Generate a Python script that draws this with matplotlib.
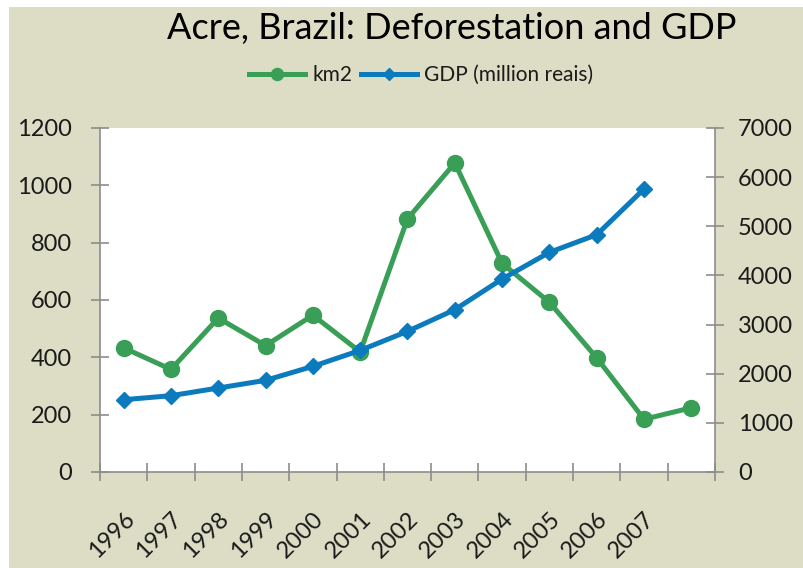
import matplotlib.pyplot as plt
from matplotlib.patches import Rectangle

# data
years = ['1996', '1997', '1998', '1999', '2000', '2001', '2002',
         '2003', '2004', '2005', '2006', '2007', '']
km2 = [433, 358, 537, 441, 547, 419, 883, 1078, 728, 592, 398, 184, 224]
gdp = [1471, 1553, 1709, 1865, 2150, 2475, 2862, 3303, 3927, 4470, 4829, 5759]

green = '#3a9f56'
blue = '#0b7bbd'
beige = '#dcddc4'
grey = '#8c8c8c'
txt = '#1a1a1a'

plt.rcParams['font.family'] = ['Lato', 'DejaVu Sans']

fig = plt.figure(figsize=(8.04, 5.68), dpi=100)
# beige chart area with thin white margin top/left
fig.patches.append(Rectangle((9 / 804, 0), 1, 1 - 7 / 568, transform=fig.transFigure,
                             facecolor=beige, edgecolor='none', zorder=-10))

ax = fig.add_axes([100 / 804, 1 - 472 / 568, 615 / 804, 344 / 568])
ax.set_facecolor('white')
ax2 = ax.twinx()

x1 = list(range(len(km2)))
x2 = list(range(len(gdp)))
l1, = ax.plot(x1, km2, color=green, lw=3.6, marker='o', ms=11.5,
              solid_joinstyle='round', label='km2')
l2, = ax2.plot(x2, gdp, color=blue, lw=3.6, marker='D', ms=8.5,
               solid_joinstyle='round', label='GDP (million reais)')

ax.set_xlim(-0.5, len(years) - 0.5)
ax.set_ylim(0, 1200)
ax2.set_ylim(0, 7000)
ax.set_yticks(range(0, 1201, 200))
ax2.set_yticks(range(0, 7001, 1000))

# category boundaries as major ticks, labels on minor ticks
ax.set_xticks([i - 0.5 for i in range(len(years) + 1)])
ax.set_xticklabels([])
ax.set_xticks(range(len(years)), minor=True)
ax.set_xticklabels(years, minor=True, rotation=45, ha='right',
                   rotation_mode='anchor', fontsize=17, color=txt)
ax.tick_params(axis='x', which='minor', length=0, pad=26)
ax.tick_params(axis='x', which='major', direction='inout', length=13,
               width=1.2, color=grey)
ax.tick_params(axis='y', direction='inout', length=13, width=1.2, color=grey,
               labelsize=17, labelcolor=txt, pad=13.5)
ax2.tick_params(axis='y', direction='inout', length=13, width=1.2, color=grey,
                labelsize=17, labelcolor=txt, pad=10)

for a in (ax, ax2):
    a.spines['top'].set_visible(False)
    for s in ('left', 'right', 'bottom'):
        a.spines[s].set_color(grey)
        a.spines[s].set_linewidth(1.2)
ax.spines['right'].set_visible(False)
ax2.spines['left'].set_visible(False)
ax2.spines['bottom'].set_visible(False)

fig.text(452 / 804, 1 - 28 / 568, 'Acre, Brazil: Deforestation and GDP',
         ha='center', va='center', fontsize=26, color='black')

leg = fig.legend([l1, l2], ['km2', 'GDP (million reais)'], ncol=2,
                 loc='center', bbox_to_anchor=(421 / 804, 1 - 75 / 568),
                 frameon=False, fontsize=15, handlelength=2.7,
                 handletextpad=0.35, columnspacing=0.4, markerscale=0.75)
for t in leg.get_texts():
    t.set_color(txt)

fig.savefig('out.png', dpi=100)
